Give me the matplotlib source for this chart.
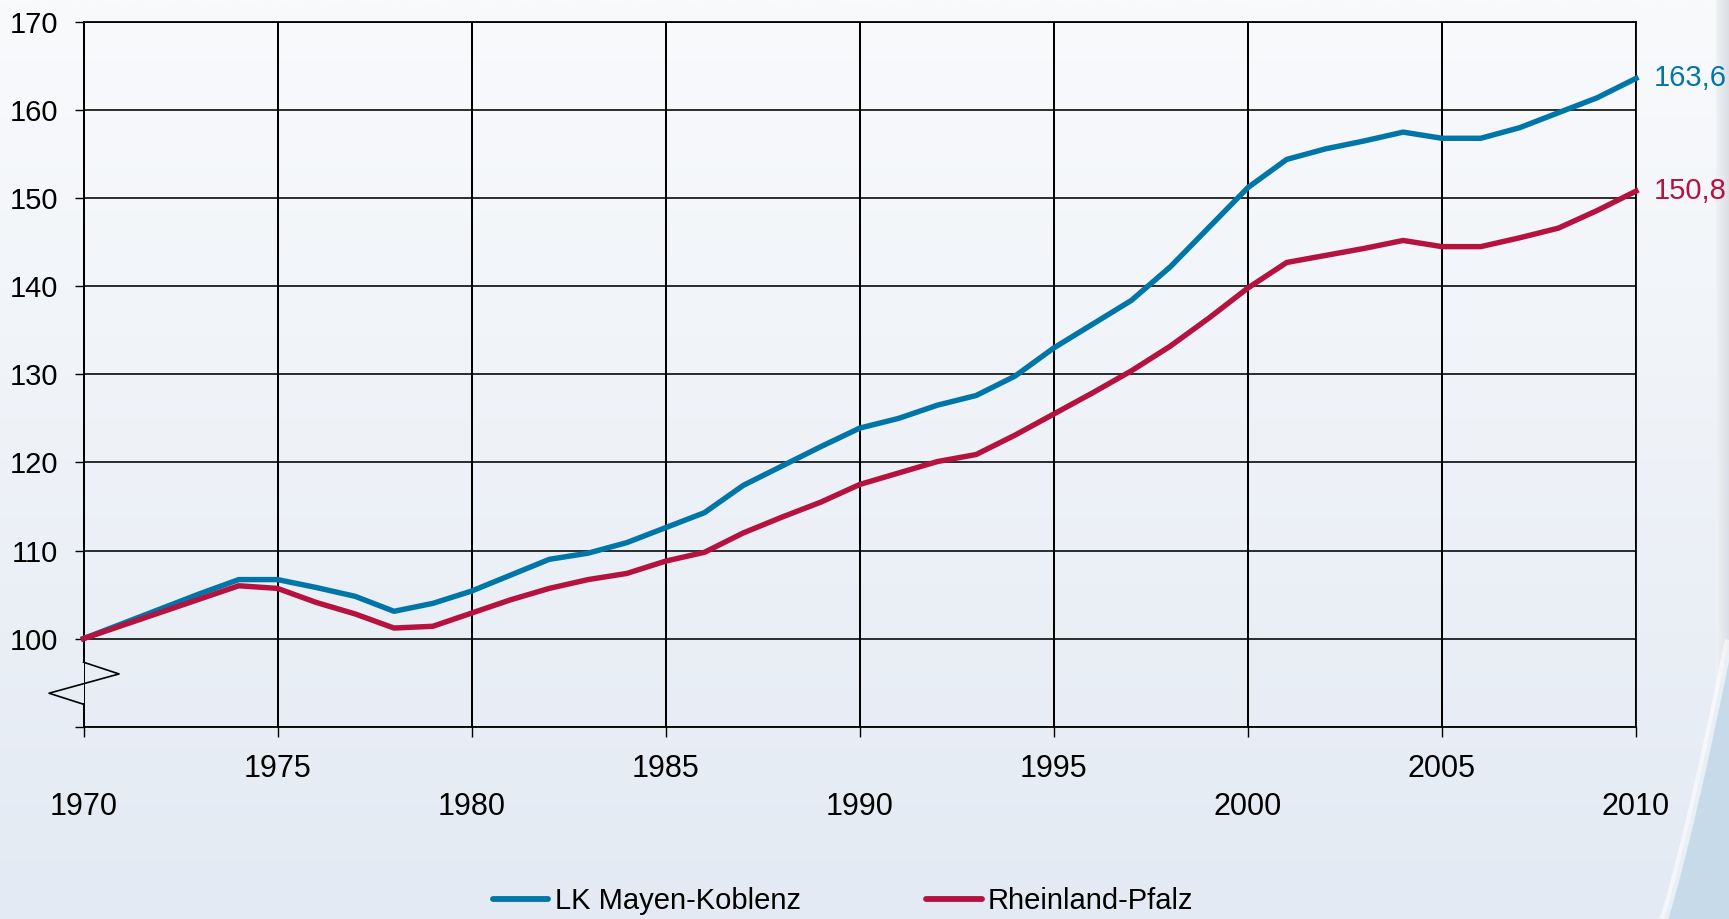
import numpy as np
import matplotlib
matplotlib.use('Agg')
import matplotlib.pyplot as plt
from matplotlib.lines import Line2D
from matplotlib.path import Path
from matplotlib.patches import PathPatch

plt.rcParams['font.family'] = ['Liberation Sans', 'DejaVu Sans']

# ---------------- data ----------------
years = list(range(1970, 2011))
mayen_koblenz = [100.0, 101.7, 103.4, 105.1, 106.7, 106.7, 105.8, 104.8, 103.1, 104.0,
                 105.4, 107.2, 109.0, 109.7, 110.9, 112.6, 114.3, 117.4, 119.6, 121.8,
                 123.9, 125.0, 126.5, 127.6, 129.8, 133.0, 135.7, 138.4, 142.2, 146.7,
                 151.2, 154.4, 155.6, 156.5, 157.5, 156.8, 156.8, 158.0, 159.7, 161.4,
                 163.6]
rheinland_pfalz = [100.0, 101.5, 103.0, 104.5, 106.0, 105.7, 104.1, 102.8, 101.2, 101.4,
                   102.9, 104.4, 105.7, 106.7, 107.4, 108.8, 109.8, 112.0, 113.8, 115.5,
                   117.5, 118.8, 120.1, 120.9, 123.1, 125.5, 127.9, 130.4, 133.2, 136.4,
                   139.8, 142.7, 143.5, 144.3, 145.2, 144.5, 144.5, 145.5, 146.6, 148.6,
                   150.8]
series_names = ['LK Mayen-Koblenz', 'Rheinland-Pfalz']
end_labels = ['163,6', '150,8']
y_ticks = [90, 100, 110, 120, 130, 140, 150, 160, 170]
y_ticklabels = ['', '100', '110', '120', '130', '140', '150', '160', '170']
x_ticks = [1970, 1975, 1980, 1985, 1990, 1995, 2000, 2005, 2010]
x_ticklabels = ['1970', '1975', '1980', '1985', '1990', '1995', '2000', '2005', '2010']

colors = ['#0076A8', '#B5123F']
W, H = 1729, 919
FS = 21
FS_X = 22

fig = plt.figure(figsize=(W / 100, H / 100), dpi=100)

# ---------------- background ----------------
bg = fig.add_axes([0, 0, 1, 1], zorder=-10)
bg.axis('off')
top = np.array([249, 250, 252]) / 255.0
bot = np.array([227, 234, 243]) / 255.0
t = np.linspace(0, 1, 256)[:, None]
grad = top[None, :] * (1 - t) + bot[None, :] * t
grad = np.repeat(grad[:, None, :], 2, axis=1)
bg.imshow(grad, extent=[0, W, H, 0], aspect='auto', interpolation='bilinear')
# right shadow strip
strip = np.linspace(0, 1, 64)[None, :, None]
sc = (1 - strip) * np.array([0.94, 0.95, 0.96]) + strip * np.array([0.86, 0.87, 0.89])
sc = np.repeat(sc, 2, axis=0)
bg.imshow(sc, extent=[1716, W, 700, 0], aspect='auto', interpolation='bilinear')
# bottom-right curved decoration
verts = [(W, 640), (1705, 760), (1682, 860), (1664, H), (W, H), (W, 640)]
codes = [Path.MOVETO, Path.CURVE4, Path.CURVE4, Path.CURVE4, Path.LINETO, Path.CLOSEPOLY]
bg.add_patch(PathPatch(Path(verts, codes), facecolor='#C6DAEA', edgecolor='none'))
edge = Path(verts[:4], codes[:4])
bg.add_patch(PathPatch(edge, facecolor='none', edgecolor='white', lw=6, alpha=0.6))
bg.set_xlim(0, W)
bg.set_ylim(H, 0)

# ---------------- main axes ----------------
left, right = 83.5, 1636.0
ytop, ybot = 22.0, 726.7
ax = fig.add_axes([left / W, 1 - ybot / H, (right - left) / W, (ybot - ytop) / H])
ax.patch.set_alpha(0)
ax.set_xlim(1970, 2010)
ax.set_ylim(90, 170)

ax.set_yticks(y_ticks)
ax.set_yticklabels(y_ticklabels, fontsize=FS)
ax.set_xticks(x_ticks)
ax.set_xticklabels([])
ax.tick_params(axis='y', length=6.5, width=1.0, pad=12, color='black')
ax.tick_params(axis='x', length=7, width=1.0, pad=0, color='black')

for xv in x_ticks:
    ax.axvline(xv, color='black', lw=1.45, zorder=1)
for yv in y_ticks:
    ax.axhline(yv, color='black', lw=1.15, zorder=1)

for s in ['top', 'right', 'bottom']:
    ax.spines[s].set_color('black')
    ax.spines[s].set_linewidth(1.3)
ax.spines['left'].set_visible(False)

# left axis with break symbol
yt = ax.get_yaxis_transform()
brk_top, brk_bot = 97.32, 92.55
ax.add_line(Line2D([0, 0], [170, brk_top], transform=yt, color='black', lw=1.45, clip_on=False))
ax.add_line(Line2D([0, 0.0229, -0.0222, 0], [brk_top, 95.99, 93.8, brk_bot],
                   transform=yt, color='black', lw=1.2, clip_on=False))
ax.add_line(Line2D([0, 0], [brk_bot, 90], transform=yt, color='black', lw=1.45, clip_on=False))

# staggered x labels
xt = ax.get_xaxis_transform()
for i, (xv, lbl) in enumerate(zip(x_ticks, x_ticklabels)):
    off = 47.0 if i % 2 == 0 else 19.5
    ax.annotate(lbl, xy=(xv, 0), xycoords=xt, xytext=(0, -off), textcoords='offset points',
                ha='center', va='top', fontsize=FS_X, color='black', annotation_clip=False)

# series
for vals, name, c, lab in zip([mayen_koblenz, rheinland_pfalz], series_names, colors, end_labels):
    ax.plot(years, vals, color=c, lw=3.9, solid_joinstyle='round', zorder=3,
            clip_on=False, label=name)
    ax.annotate(lab, xy=(years[-1], vals[-1]), xytext=(13, 0), textcoords='offset points',
                ha='left', va='center', fontsize=FS, color=c, annotation_clip=False)

leg_handles = [Line2D([], [], color=c, lw=4.2, solid_capstyle='round') for c in colors]
fig.legend(leg_handles, series_names, loc='center left',
           bbox_to_anchor=(493 / W, 1 - 901 / H), ncol=2, frameon=False,
           fontsize=FS, handlelength=1.9, handletextpad=0.22, columnspacing=4.3,
           borderpad=0, borderaxespad=0)

fig.savefig('out.png', dpi=100)
